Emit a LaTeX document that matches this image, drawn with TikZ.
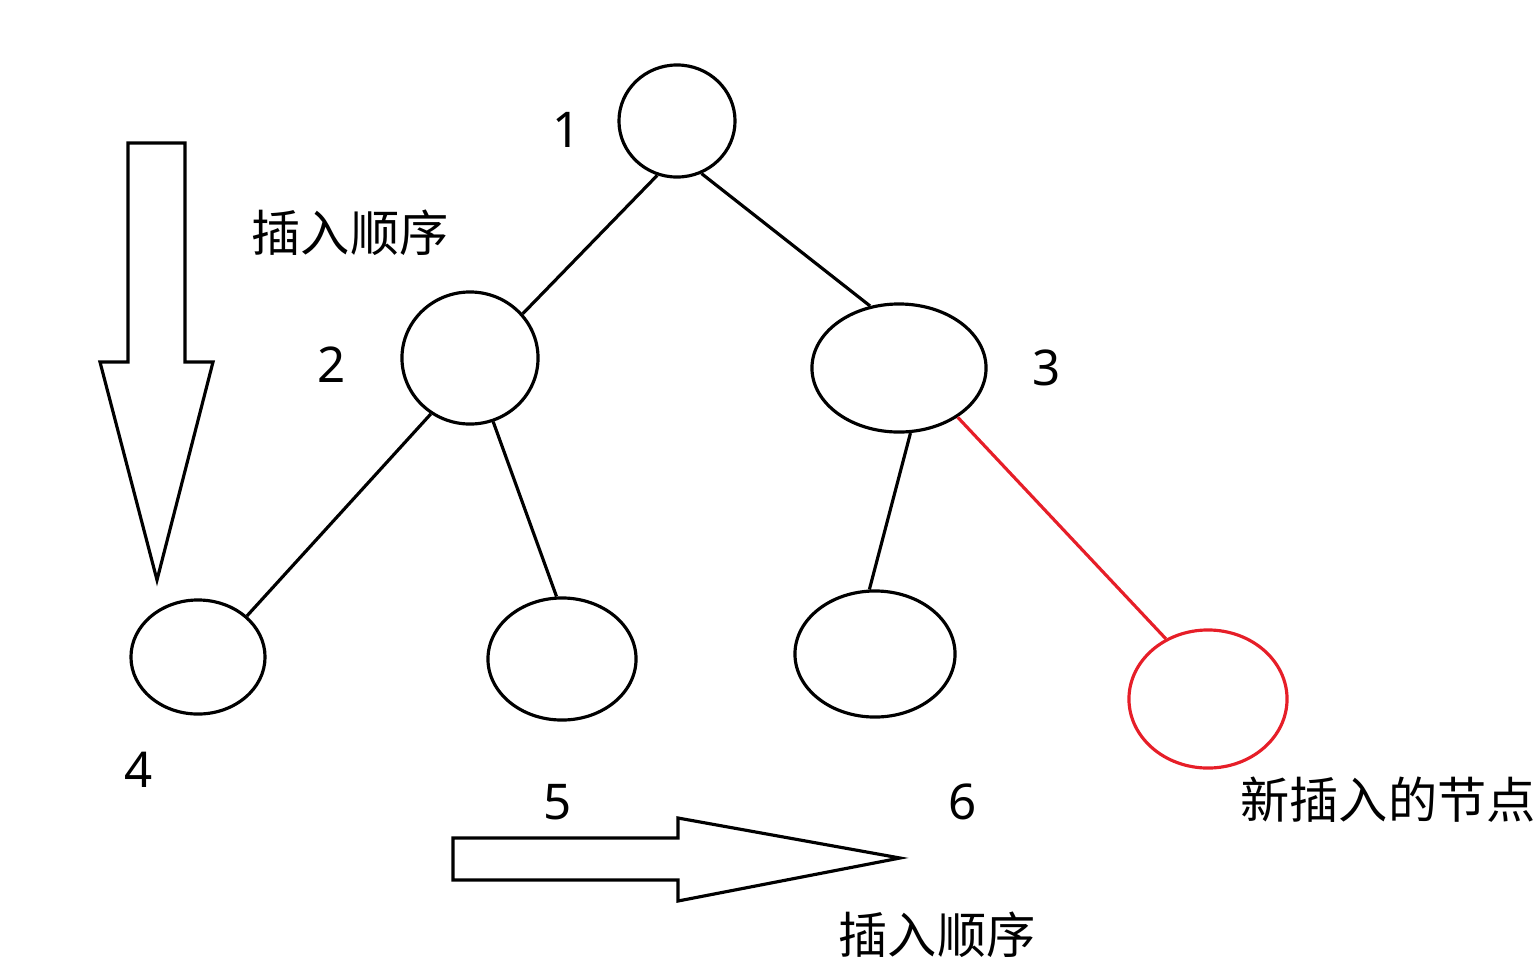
\documentclass[tikz,border=0pt]{standalone}
\usepackage{fontspec}
\setmainfont{Noto Sans}
\newfontfamily\cjk{Noto Sans CJK SC}
\usetikzlibrary{shapes.geometric}

\begin{document}
\begin{tikzpicture}[
  x=0.01cm, y=-0.01cm,
  heapnode/.style = {draw, ellipse, line width=0.9pt, inner sep=0pt},
  newnode/.style  = {heapnode, draw={rgb,255:red,230;green,30;blue,40}},
  edge/.style     = {line width=0.9pt},
  newedge/.style  = {edge, draw={rgb,255:red,230;green,30;blue,40}},
  label/.style    = {font=\fontsize{14}{16}\selectfont},
  cjklabel/.style = {font=\cjk\fontsize{14}{16}\selectfont},
  bigarrow/.style = {draw, line width=0.9pt}
]
  \useasboundingbox (0,0) rectangle (1536,960);

  % heap nodes
  \node[heapnode, minimum width=116\pgflinewidth, minimum width=1.16cm, minimum height=1.12cm] (n1) at (677,121) {};
  \node[heapnode, minimum width=1.36cm, minimum height=1.32cm] (n2) at (470,358) {};
  \node[heapnode, minimum width=1.74cm, minimum height=1.28cm] (n3) at (899,368) {};
  \node[heapnode, minimum width=1.34cm, minimum height=1.14cm] (n4) at (198,657) {};
  \node[heapnode, minimum width=1.48cm, minimum height=1.22cm] (n5) at (562,659) {};
  \node[heapnode, minimum width=1.60cm, minimum height=1.26cm] (n6) at (875,654) {};
  \node[newnode, minimum width=1.58cm, minimum height=1.38cm] (n7) at (1208,699) {};

  % edges
  \draw[edge] (n1.250) -- (n2.40);
  \draw[edge] (n1.295) -- (n3.115);
  \draw[edge] (n2.235) -- (n4.40);
  \draw[edge] (n2.290) -- (n5.95);
  \draw[edge] (n3.280) -- (n6.95);
  \draw[newedge] (n3.320) -- (n7.125);

  % numbers
  \node[label] (l1) at (567,130) {1};
  \node[label] (l2) at (332,365) {2};
  \node[label] (l3) at (1047,368) {3};
  \node[label] (l4) at (139,770) {4};
  \node[label] (l5) at (558,802) {5};
  \node[label] (l6) at (963,802) {6};

  % texts
  \node[cjklabel] (t1) at (350,233) {插入顺序};
  \node[cjklabel] (t2) at (937,935) {插入顺序};
  \node[cjklabel] (t3) at (1388,800) {新插入的节点};

  % order arrows
  \draw[bigarrow] (128,143) -- (185,143) -- (185,362) -- (213,362) -- (157,580)
    -- (100,362) -- (128,362) -- cycle;
  \draw[bigarrow] (453,838) -- (678,838) -- (678,818) -- (900,858) -- (678,901)
    -- (678,880) -- (453,880) -- cycle;
\end{tikzpicture}
\end{document}
